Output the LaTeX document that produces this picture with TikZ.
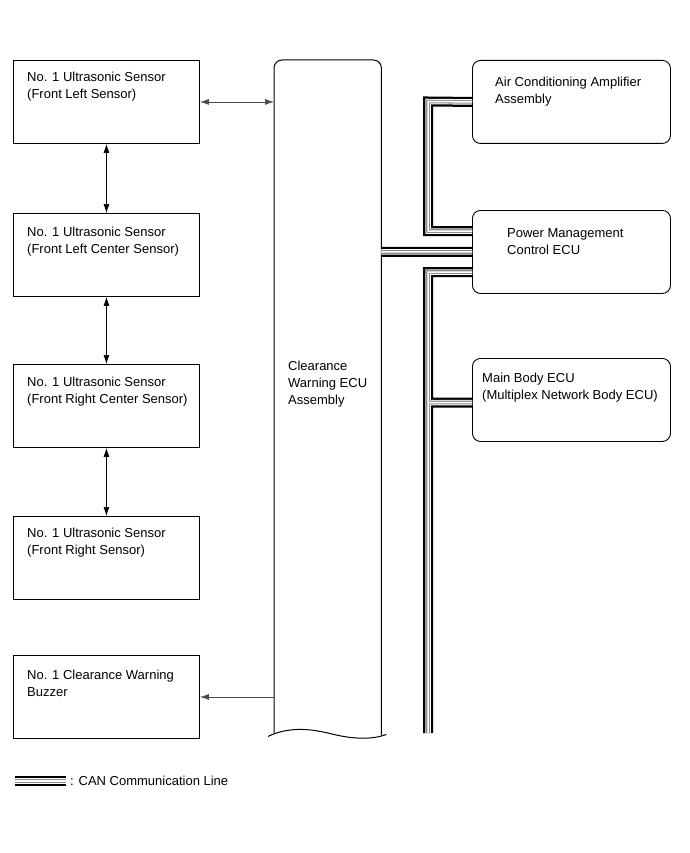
\documentclass[tikz,border=0pt]{standalone}
\usepackage{fontspec}
\setmainfont{Liberation Sans}
\usetikzlibrary{arrows.meta,calc}

% the CAN bus, drawn in several passes
\newcommand{\canlines}{(pA.west) -- (busA) -- (busB) -- (pP.west |- busB)
  (ecu.east |- pP.west) -- (pP.west)
  (pP.west |- busC) -- (busC) -- (busEnd)
  (busM) -- (pM.west |- busM)}

\begin{document}
\begin{tikzpicture}[x=1pt, y=-1pt, >={Latex[length=9pt,width=6pt]},
  sensorbox/.style={draw, line width=0.9pt, minimum width=186pt, minimum height=83pt, anchor=north west, inner sep=0pt},
  unitbox/.style={draw, line width=0.9pt, rounded corners=8pt, minimum width=198pt, minimum height=83pt, anchor=north west, inner sep=0pt},
  boxtext/.style={anchor=north west, inner sep=0pt, align=left, font=\fontsize{13}{17}\selectfont}]
\useasboundingbox (0,0) rectangle (689,853);

% left column
\node [sensorbox] (s1) at (13,60) {};
\node [sensorbox] (s2) at (13,213) {};
\node [sensorbox] (s3) at (13,364) {};
\node [sensorbox] (s4) at (13,516) {};
\node [sensorbox] (bz) at (13,655) {};
\node [boxtext] (s1t) at ($(s1.north west)+(14,12)$) {No. 1 Ultrasonic Sensor\\(Front Left Sensor)};
\node [boxtext] (s2t) at ($(s2.north west)+(14,14)$) {No. 1 Ultrasonic Sensor\\(Front Left Center Sensor)};
\node [boxtext] (s3t) at ($(s3.north west)+(14,13)$) {No. 1 Ultrasonic Sensor\\(Front Right Center Sensor)};
\node [boxtext] (s4t) at ($(s4.north west)+(14,12)$) {No. 1 Ultrasonic Sensor\\(Front Right Sensor)};
\node [boxtext] (bzt) at ($(bz.north west)+(14,15)$) {No. 1 Clearance Warning\\Buzzer};

% clearance warning ECU
\node [minimum width=107pt, minimum height=673pt, anchor=north west, inner sep=0pt] (ecu) at (274,60) {};
\draw [line width=1pt, rounded corners=8pt] (ecu.south west) -- (ecu.north west) -- (ecu.north east) -- ($(ecu.south east)+(0,2)$);
\draw [line width=1pt] ($(ecu.south west)+(-6,3)$) .. controls (290,726) and (312,729) .. (332,734) .. controls (352,739) and (372,740) .. ($(ecu.south east)+(5,1)$);
\node [boxtext] (ecut) at ($(ecu.west |- 0,361)+(14,0)$) {Clearance\\Warning ECU\\Assembly};

% right column
\node [unitbox] (pA) at (472,60) {};
\node [unitbox] (pP) at (472,210) {};
\node [unitbox] (pM) at (472,358) {};
\node [boxtext] (pAt) at ($(pA.north west)+(23,17)$) {Air Conditioning Amplifier\\Assembly};
\node [boxtext] (pPt) at ($(pP.north west)+(35,18)$) {Power Management\\Control ECU};
\node [boxtext] (pMt) at ($(pM.north west)+(10,15)$) {Main Body ECU\\(Multiplex Network Body ECU)};

% arrows
\draw [line width=0.7pt] [<->] (s1.south) -- (s2.north);
\draw [line width=0.7pt] [<->] (s2.south) -- (s3.north);
\draw [line width=0.7pt] [<->] (s3.south) -- (s4.north);
\draw [line width=0.7pt, black!70] [<->] (s1.east) -- (ecu.west |- s1.east);
\draw [line width=0.7pt, black!70] [->] (ecu.west |- bz.east) -- (bz.east);

% CAN bus
\coordinate (busA) at (428,101.5);
\coordinate (busB) at (428,231);
\coordinate (busC) at (428,272);
\coordinate (busM) at (428,402.5);
\coordinate (busEnd) at (428,733);
\foreach \w/\c in {10/black, 5.5/white, 3.6/black!45, 1.5/white}
  \draw [line width=\w pt, \c, line join=miter] \canlines;

% legend
\coordinate (legA) at (15,781);
\coordinate (legB) at (66,781);
\foreach \w/\c in {10/black, 5.5/white, 3.6/black!45, 1.5/white}
  \draw [line width=\w pt, \c] (legA) -- (legB);
\node [boxtext, anchor=west] (legt) at ($(legB)+(4,0)$) {: CAN Communication Line};
\end{tikzpicture}
\end{document}
